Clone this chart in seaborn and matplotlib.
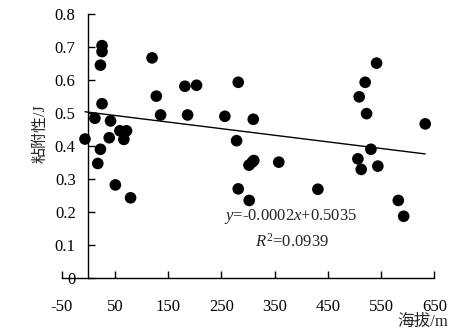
import numpy as np
import pandas as pd
import matplotlib
matplotlib.use("Agg")
import matplotlib.pyplot as plt
import seaborn as sns

# Data
altitude = [-6, 12.6, 26, 26, 23, 26, 23, 18, 42, 39.5, 59.5, 72, 67, 51, 79.6,
            120, 128, 136, 181.6, 203.5, 186.7, 256.7, 281.8, 278.7, 281.8, 302.4,
            310, 302, 308, 311, 358, 431.4, 541.6, 520.2, 509, 522.8, 633, 531,
            506.5, 512.8, 544, 582.4, 592.5]
adhesion = [0.422, 0.485, 0.705, 0.687, 0.646, 0.529, 0.391, 0.348, 0.477, 0.426,
            0.447, 0.447, 0.421, 0.283, 0.244, 0.668, 0.552, 0.495, 0.582, 0.585,
            0.495, 0.491, 0.594, 0.417, 0.271, 0.236, 0.482, 0.343, 0.352, 0.357,
            0.352, 0.270, 0.652, 0.594, 0.550, 0.499, 0.468, 0.391, 0.362, 0.330,
            0.340, 0.236, 0.188]
slope = -0.0002
intercept = 0.5035
x_ticks = [-50, 50, 150, 250, 350, 450, 550, 650]
y_ticks = [0, 0.1, 0.2, 0.3, 0.4, 0.5, 0.6, 0.7, 0.8]
y_tick_labels = ["0", "0.1", "0.2", "0.3", "0.4", "0.5", "0.6", "0.7", "0.8"]

sns.set_theme(style="white")
plt.rcParams['font.family'] = ['Liberation Serif', 'Noto Sans CJK SC']
plt.rcParams['axes.unicode_minus'] = False
plt.rcParams['mathtext.fontset'] = 'custom'
plt.rcParams['mathtext.it'] = 'Liberation Serif:italic'
plt.rcParams['mathtext.rm'] = 'Liberation Serif'

df = pd.DataFrame({"x": altitude, "y": adhesion})
xl = np.array([min(altitude), max(altitude)])
line_df = pd.DataFrame({"x": xl, "y": slope * xl + intercept})

fig = plt.figure(figsize=(4.7, 3.36), dpi=100)
ax = fig.add_axes([0.131, 0.1717, 0.793, 0.7857])

sns.scatterplot(data=df, x="x", y="y", ax=ax, color="black", s=70,
                edgecolor="none", zorder=3)
sns.lineplot(data=line_df, x="x", y="y", ax=ax, color="black", lw=1.0, zorder=2)

ax.set_xlim(-50, 650)
ax.set_ylim(0, 0.8)
ax.spines['top'].set_visible(False)
ax.spines['right'].set_visible(False)
ax.spines['left'].set_position(('data', 0))
for s in ['left', 'bottom']:
    ax.spines[s].set_color('black')
    ax.spines[s].set_linewidth(1.0)

ax.set_xticks(x_ticks)
ax.set_xticklabels([str(v) for v in x_ticks])
ax.set_yticks(y_ticks)
ax.set_yticklabels(y_tick_labels)
ax.tick_params(axis='both', direction='in', length=5, width=1, color='black',
               labelsize=12, labelcolor='black', bottom=True, left=True)
ax.tick_params(axis='x', pad=15)
ax.tick_params(axis='y', pad=9)
ax.set_xlabel("")
ax.set_ylabel("")

fig.text(41 / 470, 1 - 134 / 336, "粘附性/J", rotation=90, ha='center', va='center',
         fontsize=11.5)
fig.text(423 / 470, 1 - 322 / 336, "海拔/m", ha='center', va='center', fontsize=12)

fig.text(291 / 470, 1 - 217 / 336, r"$y$=-0.0002$x$+0.5035", ha='center',
         va='center', fontsize=12)
fig.text(292 / 470, 1 - 242 / 336, r"$R^{2}$=0.0939", ha='center', va='center',
         fontsize=12)

fig.savefig("out.png", dpi=100)
